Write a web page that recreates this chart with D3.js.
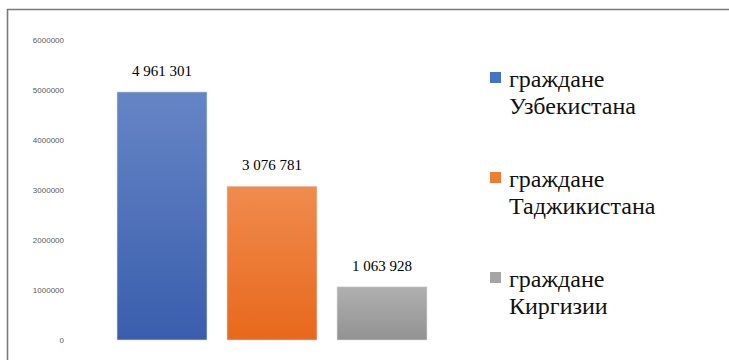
<!DOCTYPE html>
<html>
<head>
<meta charset="utf-8">
<script src="https://cdn.jsdelivr.net/npm/d3@7"></script>
<style>
  body{margin:0;background:#fff;}
  svg{display:block;}
  .axis text{font-family:"Liberation Sans",Arial,sans-serif;font-size:8px;fill:#595959;}
  svg text.serif{font-family:"Liberation Serif","Times New Roman",Times,serif;}
</style>
</head>
<body>
<div id="chart"></div>
<script>
const categories = ['граждане Узбекистана','граждане Таджикистана','граждане Киргизии'];
const legendLines = [['граждане','Узбекистана'],['граждане','Таджикистана'],['граждане','Киргизии']];
const values = [4961301, 3076781, 1063928];
const labels = ['4 961 301','3 076 781','1 063 928'];
const yTicks = [0,1000000,2000000,3000000,4000000,5000000,6000000];
const colors = ['#4472c4','#ed7d31','#a5a5a5'];
const gradTop = ['#6685c6','#f08b4e','#b0b0b0'];
const gradBot = ['#3a5ead','#e8681b','#929292'];

const W=729,H=360;
const svg=d3.select('#chart').append('svg').attr('width',W).attr('height',H);

// frame (chart area border, cropped)
svg.append('path').attr('d','M7.5,360V9.5H729')
  .attr('fill','none').attr('stroke','#7a7a7a').attr('stroke-width',1.6);

const defs=svg.append('defs');
colors.forEach((c,i)=>{
  const lg=defs.append('linearGradient').attr('id','g'+i).attr('x1',0).attr('x2',0).attr('y1',0).attr('y2',1);
  lg.append('stop').attr('offset','0%').attr('stop-color',gradTop[i]);
  lg.append('stop').attr('offset','100%').attr('stop-color',gradBot[i]);
});

const y=d3.scaleLinear().domain([0,6000000]).range([340,40]);
const x=d3.scaleBand().domain(categories).range([107,437]).paddingInner(20/110).paddingOuter(10/110);

svg.append('g').attr('class','axis')
  .attr('transform','translate(70,0)')
  .call(d3.axisLeft(y).tickValues(yTicks).tickSize(0).tickPadding(6).tickFormat(d3.format('d')))
  .call(g=>g.select('.domain').remove());

svg.append('g').selectAll('rect').data(values).enter().append('rect')
  .attr('x',(d,i)=>x(categories[i]))
  .attr('width',x.bandwidth())
  .attr('y',d=>y(d))
  .attr('height',d=>y(0)-y(d))
  .attr('fill',(d,i)=>`url(#g${i})`)
  .attr('stroke','#e2e2e2').attr('stroke-width',0.6);

svg.append('g').selectAll('text').data(values).enter().append('text')
  .attr('class','serif')
  .style('font-size','15px').style('fill','#000')
  .attr('x',(d,i)=>x(categories[i])+x.bandwidth()/2)
  .attr('y',d=>y(d)-16)
  .attr('text-anchor','middle')
  .text((d,i)=>labels[i]);

const leg=svg.append('g').attr('transform','translate(490,72)');
const item=leg.selectAll('g').data(categories).enter().append('g')
  .attr('transform',(d,i)=>`translate(0,${i*100})`);
item.append('rect').attr('width',11).attr('height',11).attr('fill',(d,i)=>colors[i]);
item.append('text').attr('class','serif')
  .style('font-size','24px').style('fill','#111')
  .attr('x',19).attr('y',15).text((d,i)=>legendLines[i][0]);
item.append('text').attr('class','serif')
  .style('font-size','24px').style('fill','#111')
  .attr('x',19).attr('y',42).text((d,i)=>legendLines[i][1]);
</script>
</body>
</html>
